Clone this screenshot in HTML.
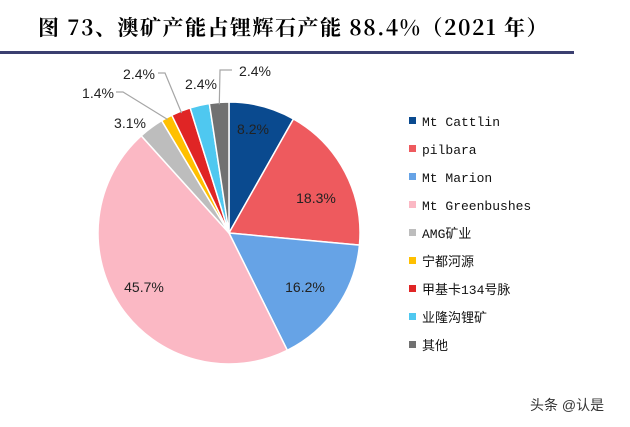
<!DOCTYPE html>
<html><head><meta charset="utf-8"><style>
body{margin:0;background:#fff;width:630px;height:422px;overflow:hidden;font-family:"Liberation Sans","Noto Sans CJK SC",sans-serif}
</style></head><body>
<svg width="630" height="422" xmlns="http://www.w3.org/2000/svg">
<text x="38" y="35" font-family="'Noto Serif CJK SC','Noto Sans CJK SC',serif" font-weight="bold" font-size="21" letter-spacing="1.5" fill="#000">图 73、澳矿产能占锂辉石产能 88.4%（2021 年）</text>
<rect x="0" y="51" width="574" height="3" fill="#3b3f70"/>
<g id="pie"></g>
<g id="labels" font-size="14" fill="#222"></g>
<g id="legend" font-size="13" fill="#111"></g>
<text x="530" y="410" font-size="14" fill="#333">头条 @认是</text>
</svg>
<script>
const categories=["Mt  Cattlin","pilbara","Mt Marion","Mt Greenbushes","AMG矿业","宁都河源","甲基卡134号脉","业隆沟锂矿","其他"];
const values=[8.2,18.3,16.2,45.7,3.1,1.4,2.4,2.4,2.4];
const labels=["8.2%","18.3%","16.2%","45.7%","3.1%","1.4%","2.4%","2.4%","2.4%"];
const colors=["#0a4a8f","#ee5a5e","#66a3e6","#fbb8c4","#bdbdbd","#ffc000","#e02525","#4fc8f0","#717171"];
const NS="http://www.w3.org/2000/svg";
const cx=229,cy=233,r=131;
// label layout (positions relative to pie center, not data)
const labelPos=[[24,-104],[87,-35],[76,54],[-85,54],[-99,-110],[-131,-140],[-90,-159],[-28,-149],[26,-162]];
const leader={5:[[-113,-141],[-106,-141]],6:[[-71,-160],[-64,-160]],8:[[3,-163],[-9,-163]]};
const total=values.reduce((a,b)=>a+b,0);
const pie=document.getElementById('pie'),lab=document.getElementById('labels'),leg=document.getElementById('legend');
function pt(a,rr){return [cx+rr*Math.sin(a),cy-rr*Math.cos(a)];}
let acc=0;
values.forEach((v,i)=>{
 const a0=acc/total*2*Math.PI; acc+=v; const a1=acc/total*2*Math.PI;
 const p0=pt(a0,r),p1=pt(a1,r);
 const path=document.createElementNS(NS,'path');
 path.setAttribute('d',`M${cx},${cy}L${p0[0]},${p0[1]}A${r},${r} 0 ${a1-a0>Math.PI?1:0} 1 ${p1[0]},${p1[1]}Z`);
 path.setAttribute('fill',colors[i]);path.setAttribute('stroke','#fff');path.setAttribute('stroke-width','1.5');
 
 
 pie.appendChild(path);
 const am=(a0+a1)/2;
 if(leader[i]){
  const pe=pt(am,r-2);
  const ln=document.createElementNS(NS,'polyline');
  const L=leader[i];
  ln.setAttribute('points',`${cx+L[0][0]},${cy+L[0][1]} ${cx+L[1][0]},${cy+L[1][1]} ${pe[0]},${pe[1]}`);
  ln.setAttribute('fill','none');ln.setAttribute('stroke','#a6a6a6');ln.setAttribute('stroke-width','1.2');
  
  
  lab.appendChild(ln);
 }
 const t=document.createElementNS(NS,'text');
 
 
 t.textContent=labels[i];
 t.setAttribute('x',cx+labelPos[i][0]);t.setAttribute('y',cy+labelPos[i][1]+5);t.setAttribute('text-anchor','middle');
 lab.appendChild(t);
 const y=121+i*28;
 const m=document.createElementNS(NS,'rect');
 m.setAttribute('x',409);m.setAttribute('y',y-4);m.setAttribute('width',7);m.setAttribute('height',7);m.setAttribute('fill',colors[i]);
 
 
 leg.appendChild(m);
 const lt=document.createElementNS(NS,'text');
 lt.setAttribute('x',422);lt.setAttribute('y',y+5);lt.textContent=categories[i];
 lt.setAttribute('font-family',"'Liberation Mono','Noto Sans CJK SC',monospace");
 
 
 leg.appendChild(lt);
});
</script>
</body></html>
